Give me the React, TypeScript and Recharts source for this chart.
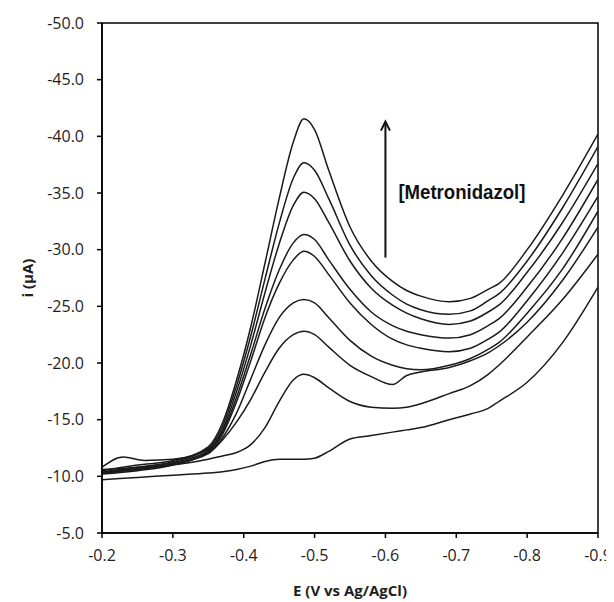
import React from "react";
import { LineChart, Line, XAxis, YAxis, ReferenceArea, ReferenceLine, Label } from "recharts";

const E_VALUES = [-0.2, -0.23, -0.25, -0.26, -0.3, -0.35, -0.37, -0.39, -0.41, -0.43, -0.45, -0.47, -0.485, -0.5, -0.52, -0.55, -0.58, -0.61, -0.63, -0.65, -0.69, -0.72, -0.745, -0.76, -0.8, -0.85, -0.9];

const C1 = [-10.5, null, -11.0, null, -11.4, -12.6, -14.7, -18.5, -23.2, -28.8, -34.5, -39.5, -41.55, -40.6, -37.0, -32.0, -29.0, -27.2, -26.4, -25.9, -25.4, -25.7, -26.5, -27.0, -30.0, -34.8, -40.2];
const C2 = [-10.4, null, -10.8, null, -11.3, -12.5, -14.4, -18.0, -22.4, -27.4, -32.3, -36.3, -37.66, -37.0, -34.5, -30.4, -27.7, -26.0, -25.2, -24.7, -24.3, -24.6, -25.5, -26.1, -29.0, -33.7, -39.1];
const C3 = [-10.8, -11.7, null, -11.4, -11.5, -12.4, -14.1, -17.5, -21.6, -26.2, -30.5, -33.9, -35.07, -34.5, -32.4, -29.0, -26.6, -25.1, -24.4, -23.9, -23.4, -23.7, -24.5, -25.1, -28.0, -32.4, -37.6];
const C4 = [-10.6, null, -10.8, null, -11.2, -12.3, -13.9, -17.0, -20.8, -24.8, -28.2, -30.6, -31.34, -30.9, -29.1, -26.5, -24.5, -23.3, -22.8, -22.5, -22.2, -22.5, -23.3, -23.9, -26.7, -31.0, -36.2];
const C5 = [-10.2, null, -10.5, null, -11.0, -12.2, -13.7, -16.6, -20.2, -24.0, -27.0, -29.1, -29.86, -29.4, -27.8, -25.3, -23.4, -22.1, -21.6, -21.3, -21.0, -21.3, -22.1, -22.7, -25.5, -29.7, -34.7];
const C6 = [-10.3, null, -10.6, null, -11.1, -12.1, -13.4, -15.6, -18.6, -21.6, -24.0, -25.3, -25.6, -25.3, -24.0, -22.0, -20.6, -19.8, -19.5, -19.4, -19.8, -20.4, -21.2, -21.8, -24.4, -28.3, -33.4];
const C7 = [-10.4, null, -10.7, null, -11.1, -12.0, -13.2, -14.8, -16.8, -19.2, -21.3, -22.5, -22.8, -22.5, -21.4, -19.8, -18.8, -18.1, -18.9, -19.2, -19.6, -20.2, -20.9, -21.5, -23.6, -27.3, -32.0];
const C8 = [-10.3, null, -10.6, null, -11.0, -11.5, -11.8, -12.1, -12.8, -14.3, -16.6, -18.5, -19.0, -18.7, -17.8, -16.6, -16.1, -16.0, -16.1, -16.4, -17.3, -18.0, -19.0, -19.8, -22.3, -25.6, -29.6];
const C9 = [-9.7, null, -9.9, null, -10.1, -10.3, -10.4, -10.6, -10.9, -11.3, -11.5, -11.5, -11.5, -11.6, -12.2, -13.3, -13.6, -13.9, -14.1, -14.3, -15.0, -15.5, -16.0, -16.6, -18.3, -21.8, -26.7];

const SERIES = [C1, C2, C3, C4, C5, C6, C7, C8, C9];
const X_TICKS = [-0.2, -0.3, -0.4, -0.5, -0.6, -0.7, -0.8, -0.9];
const Y_TICKS = [-5, -10, -15, -20, -25, -30, -35, -40, -45, -50];
const ARROW_E = -0.6;
const ARROW_FROM = -29.3;
const ARROW_TO = -41.3;
const ANNOTATION = "[Metronidazol]";

const data = E_VALUES.map((e, idx) => {
  const row: Record<string, number | null> = { E: e };
  SERIES.forEach((s, k) => {
    row["c" + (k + 1)] = s[idx];
  });
  return row;
});

const tickStyle = { fontFamily: "'Open Sans', sans-serif", fontSize: 16, fill: "#1e1e1e" };

const ArrowShape = (p: any) => {
  const x = p.x1;
  const yb = Math.max(p.y1, p.y2);
  const yt = Math.min(p.y1, p.y2);
  return (
    <g>
      <line x1={x} y1={yb} x2={x} y2={yt + 1} stroke="#111" strokeWidth={2} />
      <path d={`M ${x - 4.5} ${yt + 9} L ${x} ${yt} L ${x + 4.5} ${yt + 9}`} fill="none" stroke="#111" strokeWidth={2} />
      <text
        x={x + 13}
        y={(yb + yt) / 2 + 2}
        dominantBaseline="central"
        fontFamily="'Liberation Sans', Arial, sans-serif"
        fontWeight="bold"
        fontSize={20}
        textLength={127}
        lengthAdjust="spacingAndGlyphs"
        fill="#111"
      >
        {ANNOTATION}
      </text>
    </g>
  );
};

export default function App() {
  return (
    <LineChart
      width={606}
      height={594}
      data={data}
      margin={{ top: 15, right: 16, bottom: 28, left: 34 }}
    >
      <XAxis
        dataKey="E"
        type="number"
        domain={[-0.9, -0.2]}
        reversed
        ticks={X_TICKS}
        tickFormatter={(v: number) => v.toFixed(1)}
        tick={tickStyle}
        tickSize={5}
        tickMargin={12}
        height={41}
        axisLine={{ stroke: "#000", strokeWidth: 1.5 }}
        tickLine={{ stroke: "#000", strokeWidth: 1.5 }}
        allowDataOverflow
      >
        <Label
          value="E (V vs Ag/AgCl)"
          position="insideBottom"
          offset={-22}
          style={{ fontFamily: "'Open Sans', sans-serif", fontSize: 15, fontWeight: "bold", fill: "#1e1e1e" }}
        />
      </XAxis>
      <YAxis
        type="number"
        domain={[-50, -5]}
        reversed
        ticks={Y_TICKS}
        tickFormatter={(v: number) => v.toFixed(1)}
        tick={tickStyle}
        tickSize={5}
        tickMargin={13}
        width={60}
        axisLine={{ stroke: "#000", strokeWidth: 1.5 }}
        tickLine={{ stroke: "#000", strokeWidth: 1.5 }}
        allowDataOverflow
      >
        <Label
          value="i (µA)"
          angle={-90}
          position="insideLeft"
          offset={-14}
          style={{ textAnchor: "middle", fontFamily: "'Open Sans', sans-serif", fontSize: 15, fontWeight: "bold", fill: "#1e1e1e" }}
        />
      </YAxis>
      <ReferenceArea x1={-0.9} x2={-0.2} y1={-50} y2={-5} fill="none" fillOpacity={0} stroke="#000" strokeWidth={1.5} ifOverflow="visible" />
      {SERIES.map((_, k) => (
        <Line
          key={k}
          dataKey={"c" + (k + 1)}
          type="monotone"
          stroke="#1a1a1a"
          strokeWidth={1.5}
          dot={false}
          activeDot={false}
          connectNulls
          isAnimationActive={false}
        />
      ))}
      <ReferenceLine
        segment={[{ x: ARROW_E, y: ARROW_FROM }, { x: ARROW_E, y: ARROW_TO }]}
        shape={ArrowShape}
        ifOverflow="visible"
      />
    </LineChart>
  );
}
